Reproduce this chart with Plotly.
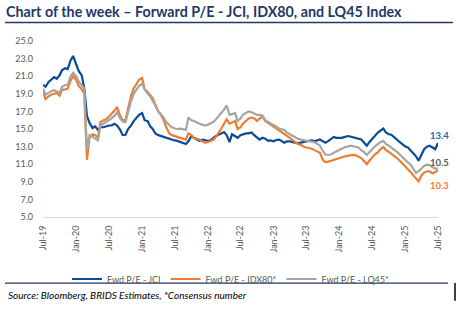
import pandas as pd
import plotly.graph_objects as go

# Semi-monthly observation dates (1st and 15th), Jul-2019 .. Jul-2025
dates = pd.date_range("2019-07-01", "2025-07-01", freq="SMS")

jci = [20.0, 19.8, 20.35, 20.6, 20.9, 20.7, 21.1, 21.7, 21.9, 21.8,
       22.8, 23.3, 22.4, 21.6, 21.1, 19.6, 16.5, 15.7, 15.1, 15.3,
       14.9, 15.2, 15.2, 15.3, 15.4, 15.4, 15.6, 15.4, 14.9, 14.3,
       14.35, 15.0, 15.4, 15.9, 16.3, 16.6, 16.8, 16.0, 15.9, 15.3,
       15.0, 14.5, 14.3, 14.2, 14.1, 14.0, 13.9, 13.8, 13.7, 13.65,
       13.5, 13.4, 13.3, 13.6, 14.2, 14.0, 13.8, 13.65, 13.8, 13.7,
       13.65, 13.7, 14.0, 14.2, 14.35, 14.5, 14.65, 14.3, 13.5, 14.4,
       14.2, 14.0, 14.3, 14.4, 14.5, 14.5, 14.6, 14.3, 14.0, 13.8,
       14.0, 13.9, 13.65, 13.7, 13.6, 13.75, 13.8, 13.6, 13.45, 13.6,
       13.6, 13.5, 13.45, 13.4, 13.45, 13.55, 13.6, 13.65, 13.7, 13.6,
       13.7, 13.8, 13.6, 13.45, 13.65, 13.9, 14.1, 14.0, 14.0, 14.0,
       14.1, 14.2, 14.15, 14.05, 14.0, 13.9, 13.8, 13.5, 13.1, 13.5,
       13.9, 14.3, 14.6, 14.8, 15.05, 14.6, 14.4, 14.35, 14.1, 13.8,
       13.5, 13.25, 13.0, 12.9, 12.5, 12.2, 11.9, 11.4, 12.2, 12.7,
       13.0, 13.1, 12.9, 12.7, 13.4]

idx80 = [19.3, 18.4, 18.7, 18.9, 19.0, 19.1, 18.8, 19.45, 19.5, 19.6,
         20.5, 21.0, 20.6, 19.9, 19.5, 19.0, 11.5, 14.0, 14.4, 14.3,
         14.0, 15.8, 16.0, 16.1, 16.4, 16.7, 17.1, 17.5, 16.5, 16.0,
         16.0, 17.3, 18.8, 19.6, 20.1, 20.6, 20.8, 19.5, 19.2, 18.9,
         18.5, 17.8, 17.0, 16.6, 16.0, 15.2, 14.5, 14.3, 14.2, 14.1,
         14.0, 13.9, 13.8, 14.5, 14.3, 14.0, 13.9, 13.8, 13.6, 13.45,
         13.5, 13.6, 13.8, 14.1, 14.5, 15.0, 15.6, 16.1, 15.6, 15.7,
         15.9, 15.0, 15.2, 15.6, 16.0, 16.2, 16.3, 16.2, 15.9, 16.2,
         16.4, 15.9, 15.7, 15.5, 15.3, 15.1, 14.9, 14.7, 14.5, 14.3,
         14.0, 13.75, 13.5, 13.3, 13.2, 13.0, 12.9, 12.85, 12.75, 12.6,
         12.45, 12.3, 11.5, 11.25, 11.3, 11.4, 11.5, 11.6, 11.7, 11.8,
         11.9, 11.95, 12.0, 12.05, 12.0, 11.9, 11.7, 11.4, 11.0, 11.4,
         11.8, 12.1, 12.35, 12.7, 12.95, 12.6, 12.4, 12.2, 12.0, 11.7,
         11.4, 11.1, 10.8, 10.4, 10.05, 9.7, 9.35, 9.05, 9.75, 10.05,
         10.2, 10.2, 9.95, 10.1, 10.3]

lq45 = [19.6, 18.9, 19.1, 19.3, 19.4, 19.3, 19.1, 19.8, 20.0, 20.0,
        21.0, 21.4, 21.0, 20.4, 20.0, 19.6, 12.6, 14.3, 14.1, 13.9,
        13.7, 15.4, 15.6, 15.8, 16.0, 16.2, 16.5, 16.9, 16.2, 15.85,
        15.8, 16.9, 18.2, 19.0, 19.5, 19.9, 20.15, 19.5, 19.0, 18.7,
        18.2, 17.6, 17.0, 16.7, 16.3, 15.8, 15.5, 15.2, 15.05, 15.0,
        15.05, 15.0, 14.9, 16.3, 16.0, 15.9, 15.7, 15.6, 15.5, 15.4,
        15.5, 15.6, 15.8, 16.1, 16.4, 16.8, 17.2, 17.7, 16.6, 16.7,
        16.8, 15.9, 16.2, 16.6, 16.8, 17.0, 16.9, 16.8, 16.6, 16.6,
        16.5, 16.0, 15.8, 15.6, 15.45, 15.2, 15.05, 14.95, 14.9, 14.6,
        14.4, 14.2, 14.0, 13.9, 13.8, 13.75, 13.7, 13.65, 13.6, 13.5,
        13.3, 13.1, 12.5, 12.1, 12.05, 12.1, 12.3, 12.45, 12.6, 12.75,
        12.95, 13.0, 13.1, 13.05, 13.0, 12.9, 12.6, 12.4, 12.05, 12.4,
        12.7, 13.0, 13.3, 13.5, 13.65, 13.3, 13.1, 12.9, 12.7, 12.4,
        12.1, 11.8, 11.5, 11.2, 10.9, 10.5, 10.0, 10.2, 10.5, 10.8,
        10.95, 10.9, 10.65, 10.5, 10.5]

series_names = ["Fwd P/E - JCI", "Fwd P/E - IDX80*", "Fwd P/E - LQ45*"]
series_colors = ["#0B4A96", "#ED7D31", "#A5A5A5"]
label_colors = ["#2F65AE", "#ED7D31", "#595959"]
y_ticks = [5.0, 7.0, 9.0, 11.0, 13.0, 15.0, 17.0, 19.0, 21.0, 23.0, 25.0]

title_text = "Chart of the week \u2013 Forward P/E - JCI, IDX80, and LQ45 Index"
source_text = "Source: Bloomberg, BRIDS Estimates, *Consensus number"

W, H = 456, 325
L, R, T, B = 43, 438, 41, 230  # plot area in pixels
NAVY = "#1F3864"
FONT = "Lato"


def px(x):
    return (x - L) / (R - L)


def py(y):
    return (B - y) / (B - T)


fig = go.Figure()
for vals, name, col in zip([jci, idx80, lq45], series_names, series_colors):
    fig.add_trace(go.Scatter(x=dates, y=vals, mode="lines", name=name,
                             line=dict(color=col, width=2.2)))

fig.update_layout(
    width=W, height=H,
    margin=dict(l=L, r=W - R, t=T, b=H - B),
    paper_bgcolor="white", plot_bgcolor="white",
    font=dict(family=FONT, color="#595959", size=9),
    title=dict(text=title_text, xref="container", yref="container",
               x=6 / W, y=1 - 12 / H, xanchor="left", yanchor="middle",
               font=dict(family=FONT, size=14.3, color=NAVY, weight="bold")),
    xaxis=dict(type="date", range=["2019-07-01", "2025-07-01"],
               tick0="2019-07-01", dtick="M6", tickformat="%b-%y",
               tickangle=-90, showgrid=False, zeroline=False,
               showline=True, linecolor="#D9D9D9", linewidth=1,
               ticks="", tickfont=dict(size=9, color="#595959"),
               ticklabelstandoff=4),
    yaxis=dict(range=[5, 25], tickvals=y_ticks, tickformat=".1f",
               showgrid=False, zeroline=False, showline=False, ticks="",
               tickfont=dict(size=9, color="#595959"),
               ticklabelstandoff=9),
    legend=dict(orientation="h", xref="container", yref="container",
                x=231 / W, y=1 - 279 / H, xanchor="center", yanchor="middle",
                font=dict(size=9, color="#595959"), itemwidth=30,
                tracegroupgap=0, bgcolor="rgba(0,0,0,0)"),
    showlegend=True,
)

# end-of-series value labels
label_pos = [(439, 142), (439, 196), (439, 171)]
for vals, col, (lx, ly) in zip([jci, idx80, lq45], label_colors, label_pos):
    fig.add_annotation(x=px(lx), y=py(ly), xref="paper", yref="paper",
                       text=f"<b>{vals[-1]:.1f}</b>", showarrow=False,
                       xanchor="center", yanchor="middle",
                       font=dict(size=9.5, color=col, family=FONT))

# source note
fig.add_annotation(x=px(6), y=py(314), xref="paper", yref="paper",
                   text=source_text, showarrow=False,
                   xanchor="left", yanchor="middle",
                   font=dict(size=10, color="#000000", family=FONT,
                             style="italic"))

# rules under title and above source
fig.add_shape(type="line", xref="paper", yref="paper",
              x0=px(5), x1=px(453), y0=py(21), y1=py(21),
              line=dict(color=NAVY, width=1.5))
fig.add_shape(type="line", xref="paper", yref="paper",
              x0=px(5), x1=px(448), y0=py(301), y1=py(301),
              line=dict(color=NAVY, width=1.2))
fig.add_shape(type="line", xref="paper", yref="paper",
              x0=px(455), x1=px(455), y0=py(301), y1=py(320),
              line=dict(color="#000000", width=1.5))

fig.write_html("out.html")
